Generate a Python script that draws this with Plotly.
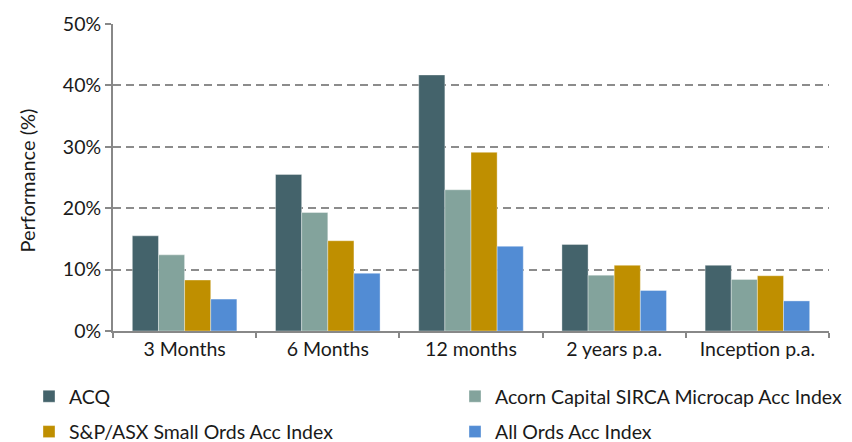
import plotly.graph_objects as go

categories = ["3 Months", "6 Months", "12 months", "2 years p.a.", "Inception p.a."]
series_names = ["ACQ", "Acorn Capital SIRCA Microcap Acc Index",
                "S&P/ASX Small Ords Acc Index", "All Ords Acc Index"]
acq = [15.5, 25.5, 41.7, 14.1, 10.7]
acorn = [12.4, 19.3, 23.0, 9.1, 8.4]
small_ords = [8.3, 14.7, 29.1, 10.7, 9.0]
all_ords = [5.2, 9.4, 13.8, 6.6, 4.9]
y_ticks = [0, 10, 20, 30, 40, 50]
y_tick_labels = ["0%", "10%", "20%", "30%", "40%", "50%"]
y_title = "Performance (%)"

colors = ["#44636b", "#83a39c", "#bf8f00", "#528cd4"]
legend_ids = ["legend", "legend2", "legend", "legend2"]
values = [acq, acorn, small_ords, all_ords]

fig = go.Figure()
for name, vals, col, lg in zip(series_names, values, colors, legend_ids):
    fig.add_trace(go.Bar(
        x=categories, y=vals, name=name,
        marker=dict(color=col, line=dict(color="rgba(255,255,255,0.6)", width=0.6)),
        legend=lg, legendgroup=name,
    ))

fam = "Lato, 'Open Sans', sans-serif"
tick_font = dict(family=fam, size=19.5, color="#1a1a1a")
title_font = dict(family=fam, size=20, color="#1a1a1a")
legend_font = dict(family=fam, size=19.5, color="#1a1a1a")

W, H = 852, 442
L, R, T, B = 105, 31, 16, 119
fig.update_layout(
    width=W, height=H,
    margin=dict(l=L, r=R, t=T, b=B, autoexpand=False),
    paper_bgcolor="white", plot_bgcolor="white",
    barmode="group", bargap=0.27, bargroupgap=0,
    font=tick_font,
    showlegend=True,
    legend=dict(xref="container", yref="container", x=21 / W, xanchor="left",
                y=0.165, yanchor="top", orientation="v", font=legend_font,
                tracegroupgap=7, bgcolor="rgba(0,0,0,0)"),
    legend2=dict(xref="container", yref="container", x=447 / W, xanchor="left",
                 y=0.165, yanchor="top", orientation="v", font=legend_font,
                 tracegroupgap=7, bgcolor="rgba(0,0,0,0)"),
)

fig.add_annotation(
    text=y_title, textangle=-90, font=title_font,
    xref="paper", yref="paper", x=(19 - L) / (W - L - R), y=0.49,
    xanchor="center", yanchor="middle", showarrow=False,
)

fig.update_xaxes(
    showline=True, linecolor="#888888", linewidth=2,
    ticks="outside", tickson="boundaries", ticklen=5, tickwidth=2, tickcolor="#888888",
    tickfont=tick_font, showgrid=False,
)
fig.update_yaxes(
    range=[0, 50], tickvals=y_ticks, ticktext=y_tick_labels,
    showline=True, linecolor="#888888", linewidth=2,
    ticks="outside", ticklen=6, tickwidth=2, tickcolor="#888888",
    showgrid=True, gridcolor="#8c8c8c", gridwidth=2, griddash="8px,5px",
    zeroline=False, tickfont=tick_font,
)

fig.write_html("out.html")
